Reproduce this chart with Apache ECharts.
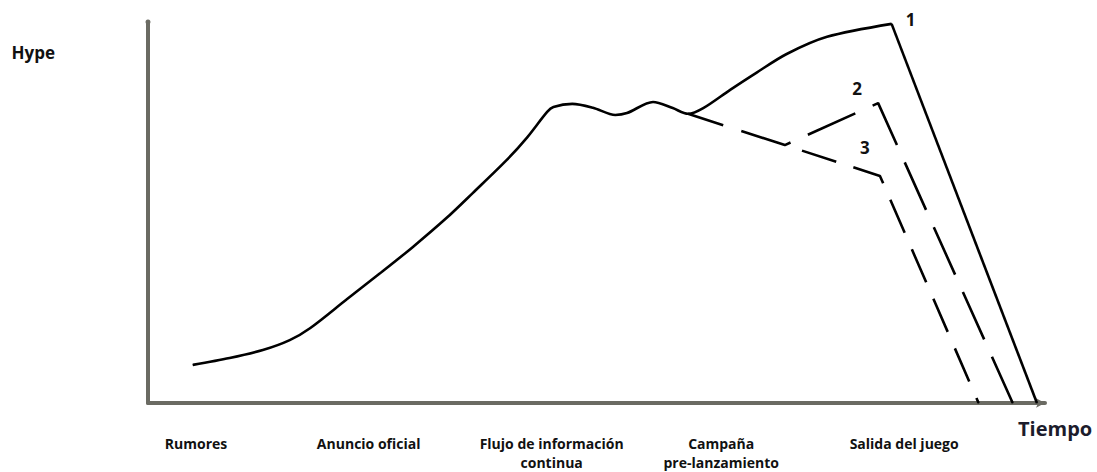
<!DOCTYPE html>
<html>
<head>
<meta charset="utf-8">
<script src="https://cdn.jsdelivr.net/npm/echarts@6/dist/echarts.min.js"></script>
<style>
  html, body { margin: 0; padding: 0; background: #fff; }
  #hype { width: 1097px; height: 472px; }
</style>
</head>
<body>
<div id="hype"></div>
<script>
// etapas del eje x (posicion en el tiempo, 0-100)
const stageNames = ['Rumores', 'Anuncio oficial', 'Flujo de información\ncontinua', 'Campaña\npre-lanzamiento', 'Salida del juego']
const stagePos = [5.35, 24.6, 45.0, 63.9, 84.3]

// curva comun hasta el punto de bifurcacion  [tiempo, hype]
const commonCurve = [
  [5.0, 10.0], [9.1, 11.8], [12.8, 13.9], [15.8, 16.5], [18.1, 19.7],
  [22.2, 27.3], [25.9, 34.1], [29.5, 40.9], [33.3, 48.6], [36.2, 55.1],
  [40.0, 63.8], [42.3, 69.8], [44.5, 76.4], [45.2, 77.7], [47.3, 78.5],
  [49.6, 77.5], [52.1, 75.6], [53.4, 76.1], [56.3, 79.0], [58.5, 77.4],
  [60.2, 75.9]
]
// escenario 1: sigue subiendo hasta la salida
const rise1 = [[61.9, 77.4], [64.9, 82.2], [67.9, 86.8], [71.2, 91.6], [75.7, 96.1], [82.9, 99.5]]
const drop1 = [[82.9, 99.5], [99.1, 0]]
// escenario 2 y 3 (discontinuos)
const path2 = [[60.2, 75.9], [71.0, 67.7], [81.4, 78.7], [96.4, 0]]
const path3 = [[71.0, 67.7], [81.6, 59.6], [92.6, 0]]

const hypeChart = echarts.init(document.getElementById('hype'), null, { renderer: 'svg' })

const numLabel = (txt, dx, dy) => ({
  show: true,
  position: 'inside',
  offset: [dx, dy],
  formatter: txt,
  color: '#111',
  fontSize: 17,
  fontWeight: 'bold',
  fontFamily: 'Open Sans'
})

const lineBase = {
  type: 'line',
  symbol: 'circle',
  symbolSize: 1,
  showSymbol: true,
  silent: true,
  animation: false,
  itemStyle: { color: '#000' },
  emphasis: { disabled: true }
}

const option = {
  animation: false,
  grid: { left: 148, right: 52, top: 22, bottom: 69 },
  xAxis: {
    type: 'value',
    min: 0,
    max: 100,
    splitLine: { show: false },
    axisTick: { show: false },
    axisLine: {
      show: true,
      symbol: ['none', 'arrow'],
      symbolSize: [7, 9],
      lineStyle: { color: '#6b6b63', width: 4 }
    },
    axisLabel: {
      show: true,
      customValues: stagePos,
      margin: 31,
      formatter: (v) => stageNames[stagePos.indexOf(v)] || '',
      color: '#111',
      fontSize: 14,
      fontWeight: 'bold',
      fontFamily: 'Open Sans',
      lineHeight: 19,
      align: 'center'
    },
    name: 'Tiempo',
    nameLocation: 'end',
    nameGap: -27,
    nameTextStyle: {
      color: '#1c1c2c',
      fontSize: 20,
      fontWeight: 'bold',
      fontFamily: 'Open Sans',
      align: 'left',
      verticalAlign: 'top',
      padding: [15, 0, 0, 0]
    }
  },
  yAxis: {
    type: 'value',
    min: 0,
    max: 100,
    splitLine: { show: false },
    axisTick: { show: false },
    axisLabel: { show: false },
    axisLine: {
      show: true,
      symbol: ['none', 'circle'],
      symbolSize: [5, 5],
      lineStyle: { color: '#6b6b63', width: 4 }
    },
    name: 'Hype',
    nameLocation: 'end',
    nameGap: -30,
    nameTextStyle: {
      color: '#111',
      fontSize: 17,
      fontWeight: 'bold',
      fontFamily: 'Open Sans',
      align: 'right',
      verticalAlign: 'middle',
      padding: [0, 93, 0, 0]
    }
  },
  series: [
    Object.assign({}, lineBase, {
      name: 'comun',
      smooth: 0.3,
      data: commonCurve.concat(rise1).map((p, i, arr) =>
        i === arr.length - 1 ? { value: p, label: numLabel('1', 19, -4) } : p),
      lineStyle: { color: '#000', width: 2.6 }
    }),
    Object.assign({}, lineBase, {
      name: 'caida1',
      data: drop1,
      lineStyle: { color: '#000', width: 2.6 }
    }),
    Object.assign({}, lineBase, {
      name: 'escenario2',
      data: path2.map((p, i) => i === 2 ? { value: p, label: numLabel('2', -21, -15) } : p),
      lineStyle: { color: '#000', width: 2.6, type: [52, 19], dashOffset: 15 }
    }),
    Object.assign({}, lineBase, {
      name: 'escenario3',
      data: path3.map((p, i) => i === 1 ? { value: p, label: numLabel('3', -15, -28) } : p),
      lineStyle: { color: '#000', width: 2.6, type: [36, 18], dashOffset: 36 }
    })
  ]
}

hypeChart.setOption(option)
</script>
</body>
</html>
